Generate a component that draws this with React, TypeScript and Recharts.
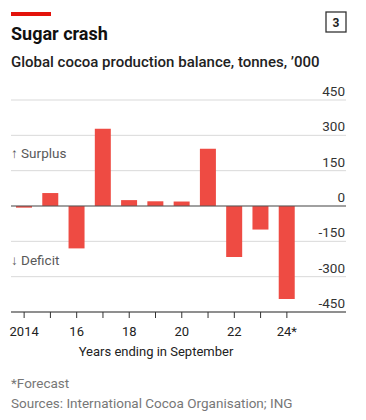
import { BarChart, Bar, XAxis, YAxis, CartesianGrid, ReferenceLine } from 'recharts';

const years = [2014, 2015, 2016, 2017, 2018, 2019, 2020, 2021, 2022, 2023, 2024];
const balance = [-7, 55, -180, 328, 25, 20, 19, 243, -217, -100, -395];
const yearLabels = ['2014', '', '16', '', '18', '', '20', '', '22', '', '24*'];
const yTicks = [-450, -300, -150, 0, 150, 300, 450];

const data = years.map((y, i) => ({ year: y, label: yearLabels[i], value: balance[i] }));

const FONT = 'Roboto, "Noto Sans", sans-serif';

function YTick(props: any) {
  const { y, payload } = props;
  return (
    <text x={345} y={y - 4} textAnchor="end" fontSize={13.5} fill="#333" fontFamily={FONT}>
      {payload.value}
    </text>
  );
}

export default function App() {
  return (
    <div style={{ position: 'absolute', left: 0, top: 0, width: 366, height: 420, background: '#fff', fontFamily: FONT }}>
      <BarChart
        width={366}
        height={360}
        data={data}
        margin={{ top: 100, right: 0, left: 11, bottom: 0 }}
        style={{ position: 'absolute', left: 0, top: 0 }}
      >
        <CartesianGrid vertical={false} stroke="#d9d9d9" />
        <XAxis
          dataKey="year"
          interval={0}
          tickFormatter={(v: number) => yearLabels[years.indexOf(v)]}
          padding={{ left: 0, right: 46 }}
          height={48}
          tickSize={6}
          tickMargin={9}
          stroke="#333"
          tick={{ fontSize: 13, fill: '#222', fontFamily: FONT }}
        />
        <YAxis
          orientation="right"
          domain={[-450, 450]}
          ticks={yTicks}
          width={20}
          axisLine={false}
          tickLine={false}
          tick={(p: any) => <YTick {...p} />}
        />
        <ReferenceLine y={0} stroke="#555" strokeWidth={1.2} />
        <Bar dataKey="value" fill="#ee4b43" barSize={16} isAnimationActive={false} />
      </BarChart>
      <svg width={366} height={420} style={{ position: 'absolute', left: 0, top: 0, pointerEvents: 'none' }} fontFamily={FONT}>
        <rect x={11} y={12} width={40} height={4} fill="#e3120b" />
        <rect x={326} y={12} width={20} height={20} fill="none" stroke="#333" strokeWidth={1.3} />
        <text x={336} y={27} textAnchor="middle" fontSize={12} fontWeight={700} fill="#222">3</text>
        <text x={11} y={40} fontSize={18} fontWeight={700} fill="#111">Sugar crash</text>
        <text x={11} y={67} fontSize={15} fontWeight={500} fill="#222">Global cocoa production balance, tonnes, ’000</text>
        <text x={11} y={158} fontSize={13.5} fill="#595959">↑ Surplus</text>
        <text x={11} y={265} fontSize={13.5} fill="#595959">↓ Deficit</text>
        <text x={156} y={356} textAnchor="middle" fontSize={13} fill="#222">Years ending in September</text>
        <text x={11} y={388} fontSize={13.5} fill="#777">*Forecast</text>
        <text x={11} y={408} fontSize={13.5} fill="#777">Sources: International Cocoa Organisation; ING</text>
      </svg>
    </div>
  );
}
